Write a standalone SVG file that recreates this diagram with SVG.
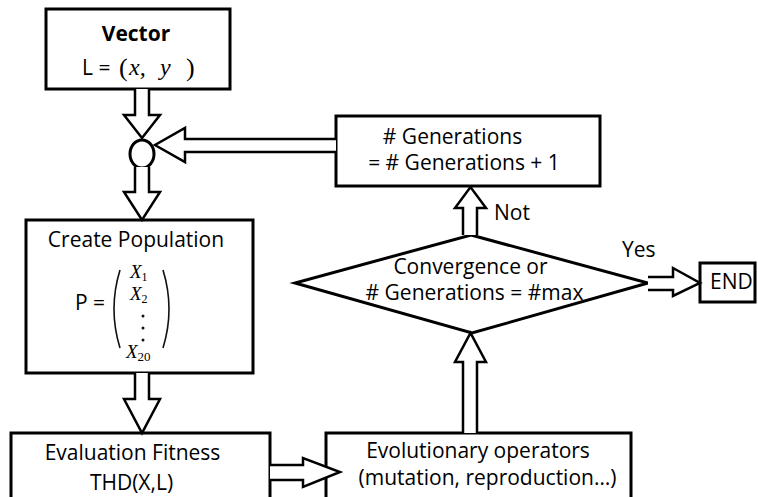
<svg xmlns="http://www.w3.org/2000/svg" width="758" height="497" viewBox="0 0 758 497">
<style>
.box{fill:#fff;stroke:#000;stroke-width:3}
.arr{fill:#fff;stroke:#000;stroke-width:2.5;stroke-linejoin:miter}
.t{font-family:"Open Sans","Liberation Sans",sans-serif;font-size:21px;fill:#000}
.c{text-anchor:middle}
.b{font-weight:bold}
.m{font-family:"Liberation Serif","DejaVu Serif",serif;font-style:italic;fill:#000}
.br{fill:none;stroke:#111;stroke-width:1.6}
</style>
<rect width="758" height="497" fill="#fff"/>
<g id="vector">
  <rect class="box" x="46" y="9" width="184" height="80"/>
  <text class="t c b" x="136" y="41" font-size="22">Vector</text>
  <text class="t" x="82" y="75">L =</text>
  <text class="m" x="119" y="76" font-size="26" style="font-style:normal">(</text>
  <text class="m" x="129" y="75" font-size="24">x,</text>
  <text class="m" x="160" y="75" font-size="24">y</text>
  <text class="m" x="186" y="76" font-size="26" style="font-style:normal">)</text>
</g>
<g id="junction">
  <ellipse class="box" cx="142" cy="154" rx="12" ry="14"/>
</g>
<g id="create-population">
  <rect class="box" x="26" y="220" width="227" height="153"/>
  <text class="t c" x="136" y="247" font-size="22">Create Population</text>
  <text class="t" x="75" y="310" font-size="22">P =</text>
  <path class="br" d="M120,270 Q108,309 120,348"/>
  <path class="br" d="M163,270 Q175,309 163,348"/>
  <text class="m" x="130" y="278" font-size="19">X<tspan font-size="12" dy="3" style="font-style:normal">1</tspan></text>
  <text class="m" x="130" y="300" font-size="19">X<tspan font-size="12" dy="3" style="font-style:normal">2</tspan></text>
  <circle cx="143" cy="316" r="1.5" fill="#111"/>
  <circle cx="143" cy="328" r="1.5" fill="#111"/>
  <circle cx="143" cy="340" r="1.5" fill="#111"/>
  <text class="m" x="126" y="358" font-size="19">X<tspan font-size="13" dy="3" style="font-style:normal">20</tspan></text>
</g>
<g id="evaluation-fitness">
  <rect class="box" x="11" y="433" width="259" height="70"/>
  <text class="t c" x="132.5" y="460">Evaluation Fitness</text>
  <text class="t c" x="131.5" y="490">THD(X,L)</text>
</g>
<g id="evolutionary-operators">
  <rect class="box" x="326" y="433" width="305" height="70"/>
  <text class="t c" x="478" y="458">Evolutionary operators</text>
  <text class="t c" x="487.5" y="485">(mutation, reproduction…)</text>
</g>
<g id="generations">
  <rect class="box" x="336" y="116" width="264" height="70"/>
  <text class="t c" x="452.5" y="144"># Generations</text>
  <text class="t c" x="464" y="170">= # Generations  + 1</text>
</g>
<g id="decision">
  <path class="box" d="M471,235 L648,283 L472,333 L295,283 Z"/>
  <text class="t c" x="470.5" y="274" font-size="19.5">Convergence or</text>
  <text class="t c" x="474.5" y="300" font-size="19.5"># Generations = #max</text>
</g>
<g id="end">
  <rect class="box" x="700" y="263" width="55" height="39"/>
  <text class="t" x="710" y="289">END</text>
</g>
<g id="connectors">
  <path class="arr" d="M135,89 V115 H124 L142,138 L160,115 H149 V89"/>
  <path class="arr" d="M135,167 V192 H124 L142,220 L160,192 H149 V167"/>
  <path class="arr" d="M135,373 V399 H124 L142,433 L160,399 H149 V373"/>
  <path class="arr" d="M336,139 H185 V128 L155,145 L185,162 V152 H336"/>
  <path class="arr" d="M463,235 V208 H455 L470.5,187 L486,208 H477 V235"/>
  <path class="arr" d="M463,433 V362 H455 L470.5,333 L486,362 H477 V433"/>
  <path class="arr" d="M648,277 H673 V268 L700,283 L673,296 V290 H648"/>
  <path class="arr" d="M270,465 H303 V458 L340,472 L303,487 V480 H270"/>
  <text class="t" x="494" y="220">Not</text>
  <text class="t" x="622" y="257">Yes</text>
</g>
</svg>
